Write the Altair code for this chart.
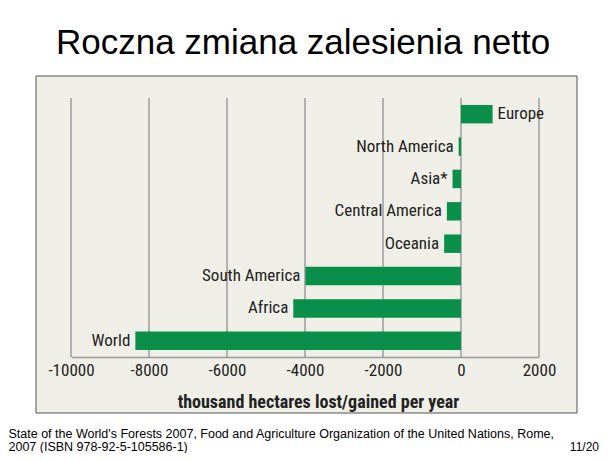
import altair as alt
import pandas as pd

regions = ["Europe", "North America", "Asia*", "Central America", "Oceania",
           "South America", "Africa", "World"]
values = [810, -60, -217, -362, -432, -3990, -4300, -8350]
ticks = [-10000, -8000, -6000, -4000, -2000, 0, 2000]

title_text = "Roczna zmiana zalesienia netto"
axis_title = "thousand hectares lost/gained per year"
footer1 = "State of the World's Forests 2007, Food and Agriculture Organization of the United Nations, Rome,"
footer2 = "2007 (ISBN 978-92-5-105586-1)"
page_no = "11/20"

df = pd.DataFrame({"region": regions, "value": values, "zero": [0] * len(regions)})
tick_df = pd.DataFrame({"tick": ticks})
one = alt.Data(values=[{"a": 1}])

NARROW = "Roboto Condensed, DejaVu Sans Condensed, Liberation Sans Narrow, Arial Narrow, Liberation Sans"
GREEN = "#0a8f4a"

xscale = alt.Scale(domain=[ticks[0], ticks[-1]], nice=False, zero=False)
yscale = alt.Scale(domain=regions, paddingInner=0.43, paddingOuter=0.215)

panel = alt.Chart(one).mark_rect(fill="#efefe7", stroke="#555555", strokeWidth=1).encode(
    x=alt.value(-35), x2=alt.value(506), y=alt.value(-22), y2=alt.value(315)
)

grid = alt.Chart(tick_df).mark_rule(color="#9c9c9c", strokeWidth=1.5).encode(
    x=alt.X("tick:Q", scale=xscale), y=alt.value(0), y2=alt.value(259)
)

bars = alt.Chart(df).mark_bar(color=GREEN).encode(
    x=alt.X("value:Q", scale=xscale,
            axis=alt.Axis(values=ticks, grid=False, zindex=1,
                          domainColor="#9c9c9c", domainWidth=1.5, ticks=False,
                          labelFont=NARROW, labelFontSize=17, labelColor="#222222",
                          labelPadding=5, labelFlush=False, labelOverlap=False,
                          labelExpr="'' + datum.value",
                          title=axis_title, titleFont=NARROW, titleFontSize=18,
                          titleFontWeight="bold", titleColor="#222222",
                          titleX=247, titleY=45, titleAlign="center",
                          titleBaseline="middle")),
    x2="zero:Q",
    y=alt.Y("region:N", scale=yscale, sort=regions, axis=None),
)

neg_labels = alt.Chart(df).transform_filter("datum.value < 0").mark_text(
    align="right", baseline="middle", dx=-5, font=NARROW, fontSize=17, color="#222222"
).encode(x=alt.X("value:Q", scale=xscale), y=alt.Y("region:N", scale=yscale, sort=regions), text="region:N")

pos_labels = alt.Chart(df).transform_filter("datum.value >= 0").mark_text(
    align="left", baseline="middle", dx=5, font=NARROW, fontSize=17, color="#222222"
).encode(x=alt.X("value:Q", scale=xscale), y=alt.Y("region:N", scale=yscale, sort=regions), text="region:N")

title = alt.Chart(one).mark_text(
    align="center", baseline="alphabetic", font="Liberation Sans", fontSize=35, color="#000000"
).encode(x=alt.value(232), y=alt.value(-44), text=alt.value(title_text))

f1 = alt.Chart(one).mark_text(
    align="left", baseline="alphabetic", font="Liberation Sans", fontSize=12.5, color="#000000"
).encode(x=alt.value(-62.5), y=alt.value(339.5), text=alt.value(footer1))

f2 = alt.Chart(one).mark_text(
    align="left", baseline="alphabetic", font="Liberation Sans", fontSize=12.5, color="#000000"
).encode(x=alt.value(-62.5), y=alt.value(352.5), text=alt.value(footer2))

f3 = alt.Chart(one).mark_text(
    align="right", baseline="alphabetic", font="Liberation Sans", fontSize=12, color="#000000"
).encode(x=alt.value(528), y=alt.value(352.5), text=alt.value(page_no))

chart = alt.layer(panel, grid, bars, neg_labels, pos_labels, title, f1, f2, f3).properties(
    width=468, height=259,
    autosize=alt.AutoSizeParams(type="none"),
    padding={"left": 63, "top": 90, "right": 61, "bottom": 96},
    background="white",
).configure_view(stroke=None)

chart.save("out.html", embed_options={"renderer": "svg", "actions": False})
